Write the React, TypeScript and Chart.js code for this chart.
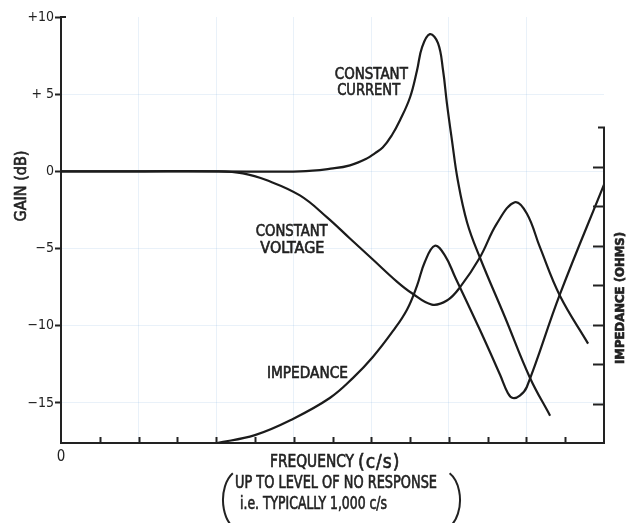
import React, { useEffect, useRef } from "react";
import { Chart, registerables } from "chart.js";

Chart.register(...registerables);

// ---- data ----
// frequency axis: 14 equal divisions (no numbers except 0)
const freqTicks = [0, 1, 2, 3, 4, 5, 6, 7, 8, 9, 10, 11, 12, 13, 14];

// gain axis (dB)
const gainTicks = [-15, -10, -5, 0, 5, 10];
const gainTickLabels = ["\u221215", "\u221210", "\u22125", "0", "+ 5", "+10"];

// impedance axis (unnumbered divisions)
const impedanceTicks = [1, 2, 3, 4, 5, 6, 7];
const impedanceAxisTop = 8;

// constant current response (dB)
const currentFreq = [0, 4, 6.16, 7.01, 7.45, 7.89, 8.09, 8.3, 8.53, 8.74, 9.0, 9.18, 9.31, 9.51, 9.72, 9.85, 9.95, 10.08, 10.23, 10.47, 10.8, 11.45, 12.09, 12.61];
const currentGain = [0, 0, 0, 0.19, 0.39, 0.84, 1.17, 1.56, 2.34, 3.31, 4.8, 6.55, 8.05, 8.89, 8.31, 6.55, 4.41, 2.01, -0.58, -3.31, -5.58, -9.47, -13.37, -15.83];

// constant voltage response (dB)
const voltageFreq = [0, 2, 4.0, 4.69, 5.31, 6.16, 6.86, 7.45, 8.04, 8.66, 9.05, 9.56, 9.95, 10.29, 10.8, 11.24, 11.7, 12.01, 12.35, 12.86, 13.59];
const voltageGain = [0, 0, 0, -0.13, -0.58, -1.56, -2.98, -4.35, -5.71, -7.14, -7.9, -8.63, -8.37, -7.5, -5.58, -3.37, -2.0, -2.73, -4.93, -8.04, -11.16];

// impedance (ohms, arbitrary divisions of the right axis)
const impedanceFreq = [4.02, 5.0, 5.98, 6.93, 7.53, 8.04, 8.56, 8.92, 9.18, 9.38, 9.64, 9.9, 10.16, 10.8, 11.32, 11.52, 11.65, 11.83, 12.01, 12.86, 14.0];
const impedanceOhms = [0, 0.2, 0.61, 1.14, 1.65, 2.18, 2.84, 3.38, 3.99, 4.59, 5.0, 4.75, 4.21, 2.87, 1.73, 1.27, 1.14, 1.2, 1.42, 3.76, 6.55];

const FONT = "'DejaVu Sans Condensed', 'DejaVu Sans', sans-serif";
const INK = "#222222";
const CURVE = "#1b1b1b";
const FAINT = "rgba(120,170,215,0.16)";

const toPoints = (xs: number[], ys: number[]) => xs.map((x, i) => ({ x, y: ys[i] }));

const decor = {
  id: "decor",
  afterDraw(chart: any) {
    const { ctx, chartArea } = chart;
    const { left, top, bottom } = chartArea;
    const x = chart.scales.x;
    const y = chart.scales.y;
    const y2 = chart.scales.y2;
    ctx.save();
    ctx.strokeStyle = INK;
    ctx.lineWidth = 2;
    ctx.lineCap = "butt";

    // small hook at the top of the gain axis
    ctx.beginPath();
    ctx.moveTo(left - 1, top);
    ctx.lineTo(left + 5, top);
    ctx.stroke();

    // inward ticks on the frequency axis
    for (const f of freqTicks) {
      if (f === freqTicks[0] || f === freqTicks[freqTicks.length - 1]) continue;
      const px = Math.round(x.getPixelForValue(f)) + 0.5;
      ctx.beginPath();
      ctx.moveTo(px, bottom);
      ctx.lineTo(px, bottom - 6);
      ctx.stroke();
    }

    // impedance axis on the right
    const rx = x.getPixelForValue(freqTicks[freqTicks.length - 1]);
    const ty = y2.getPixelForValue(impedanceAxisTop);
    ctx.beginPath();
    ctx.moveTo(rx, bottom + 1);
    ctx.lineTo(rx, ty);
    ctx.lineTo(rx - 6, ty);
    ctx.stroke();
    for (const t of impedanceTicks) {
      const py = Math.round(y2.getPixelForValue(t)) + 0.5;
      ctx.beginPath();
      ctx.moveTo(rx, py);
      ctx.lineTo(rx - 11, py);
      ctx.stroke();
    }

    // texts
    ctx.fillStyle = INK;
    ctx.strokeStyle = INK;
    ctx.textBaseline = "middle";
    const text = (s: string, px: number, py: number, size: number, align: CanvasTextAlign = "left", weight = "normal", maxW?: number) => {
      ctx.font = `${weight} ${size}px ${FONT}`;
      ctx.textAlign = align;
      ctx.lineWidth = 0.6;
      if (maxW) {
        ctx.fillText(s, px, py, maxW);
        ctx.strokeText(s, px, py, maxW);
      } else {
        ctx.fillText(s, px, py);
        ctx.strokeText(s, px, py);
      }
    };

    // curve labels (anchored in data space)
    const lab = (s: string, f: number, g: number, w: number) =>
      text(s, x.getPixelForValue(f), y.getPixelForValue(g), 16, "left", "normal", w);
    lab("CONSTANT", 7.06, 6.23, 73);
    lab("CURRENT", 7.12, 5.19, 63);
    lab("CONSTANT", 5.02, -3.92, 72);
    lab("VOLTAGE", 5.14, -5.0, 64);
    lab("IMPEDANCE", 5.31, -13.1, 81);

    // axis titles
    ctx.save();
    ctx.translate(22, 186);
    ctx.rotate(-Math.PI / 2);
    text("GAIN (dB)", 0, 0, 16, "center", "normal", 79);
    ctx.restore();

    ctx.save();
    ctx.translate(621, 298);
    ctx.rotate(-Math.PI / 2);
    text("IMPEDANCE (OHMS)", 0, 0, 13, "center", "bold", 138);
    ctx.restore();

    text("FREQUENCY", 270, 463, 17, "left", "normal", 84);
    ctx.save();
    (ctx as any).letterSpacing = "1px";
    text("(c/s)", 358, 463, 19, "left", "normal", 47);
    ctx.restore();
    text("UP TO LEVEL OF NO RESPONSE", 235, 484, 17, "left", "normal", 202);
    text("i.e. TYPICALLY 1,000 c/s", 240, 505, 17, "left", "normal", 147);

    // big brackets around the note
    ctx.lineWidth = 2;
    ctx.beginPath();
    ctx.ellipse(241, 500, 18, 30, 0, Math.PI * 0.65, Math.PI * 1.35);
    ctx.stroke();
    ctx.beginPath();
    ctx.ellipse(441, 500, 19, 30, 0, -Math.PI * 0.35, Math.PI * 0.35);
    ctx.stroke();

    ctx.restore();
  },
};

export default function App() {
  const ref = useRef<HTMLCanvasElement>(null);

  useEffect(() => {
    const lineStyle = {
      borderColor: CURVE,
      borderWidth: 2.2,
      pointRadius: 0,
      tension: 0.4,
      fill: false,
    };
    const chart = new Chart(ref.current as HTMLCanvasElement, {
      type: "line",
      data: {
        datasets: [
          { label: "Constant current", data: toPoints(currentFreq, currentGain), yAxisID: "y", ...lineStyle },
          { label: "Constant voltage", data: toPoints(voltageFreq, voltageGain), yAxisID: "y", ...lineStyle },
          { label: "Impedance", data: toPoints(impedanceFreq, impedanceOhms), yAxisID: "y2", ...lineStyle },
        ],
      },
      options: {
        responsive: false,
        animation: false,
        devicePixelRatio: 1,
        layout: { padding: { top: 17, right: 35, bottom: 0, left: 0 } },
        plugins: { legend: { display: false }, tooltip: { enabled: false } },
        scales: {
          x: {
            type: "linear",
            min: freqTicks[0],
            max: freqTicks[freqTicks.length - 1],
            border: { display: true, color: INK, width: 2 },
            grid: {
              drawTicks: false,
              lineWidth: 1,
              color: (c: any) => {
                const v = c.tick ? c.tick.value : 0;
                return v > 0 && v < 14 && v % 2 === 0 ? FAINT : "rgba(0,0,0,0)";
              },
            },
            ticks: {
              autoSkip: false,
              maxRotation: 0,
              padding: 5,
              color: INK,
              font: { family: FONT, size: 15 },
              callback: (v: any) => (v === 0 ? "0" : ""),
            },
            afterBuildTicks: (s: any) => {
              s.ticks = freqTicks.map((v) => ({ value: v }));
            },
            afterFit: (s: any) => {
              s.height = 80;
            },
          },
          y: {
            type: "linear",
            min: -17.6,
            max: 10,
            border: { display: true, color: INK, width: 2 },
            grid: {
              drawTicks: true,
              tickLength: 6,
              tickWidth: 2,
              tickColor: INK,
              lineWidth: 1,
              color: (c: any) => {
                const v = c.tick ? c.tick.value : 10;
                return v < 10 ? FAINT : "rgba(0,0,0,0)";
              },
            },
            ticks: {
              padding: 1,
              color: INK,
              font: { family: FONT, size: 14 },
              callback: (v: any) => {
                const i = gainTicks.indexOf(Number(v));
                return i >= 0 ? gainTickLabels[i] : "";
              },
            },
            afterBuildTicks: (s: any) => {
              s.ticks = gainTicks.map((v) => ({ value: v }));
            },
            afterFit: (s: any) => {
              s.width = 61;
            },
          },
          y2: {
            type: "linear",
            position: "right",
            min: 0,
            max: 10.8,
            display: false,
          },
        },
      },
      plugins: [decor],
    });
    return () => chart.destroy();
  }, []);

  return (
    <div style={{ position: "fixed", left: 0, top: 0, width: 639, height: 523, background: "#ffffff" }}>
      <canvas ref={ref} width={639} height={523} style={{ display: "block", width: 639, height: 523 }} />
    </div>
  );
}
